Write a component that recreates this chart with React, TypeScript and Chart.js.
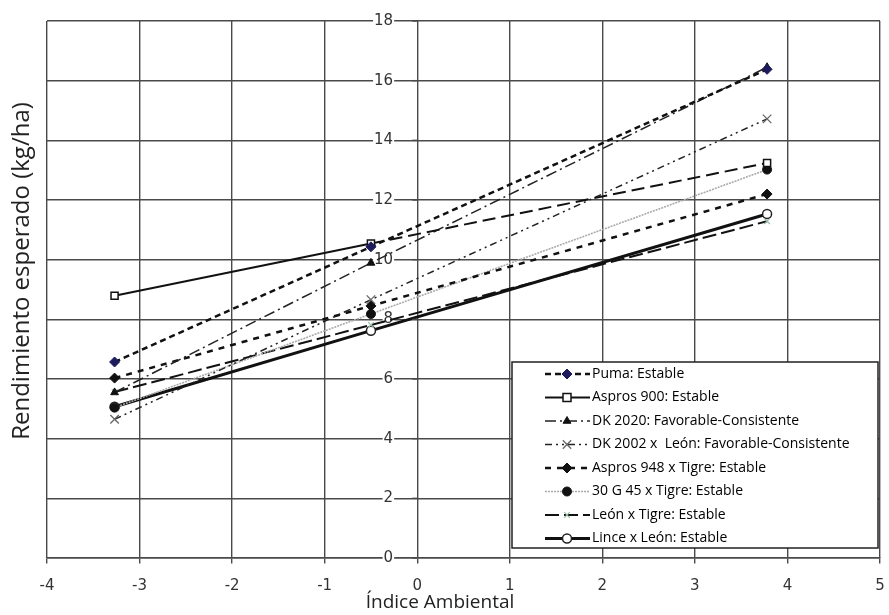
import React, { useEffect, useRef } from 'react';
import { Chart, registerables } from 'chart.js';

Chart.register(...registerables);

// ---- data ----
const envIndex = [-3.27, -0.5, 3.78];
const seriesLabels = [
  'Puma: Estable',
  'Aspros 900: Estable',
  'DK 2020: Favorable-Consistente',
  'DK 2002 x  León: Favorable-Consistente',
  'Aspros 948 x Tigre: Estable',
  '30 G 45 x Tigre: Estable',
  'León x Tigre: Estable',
  'Lince x León: Estable',
];
const puma = [6.57, 10.43, 16.38];
const aspros900 = [8.79, 10.54, 13.24];
const dk2020 = [5.55, 9.89, 16.45];
const dk2002Leon = [4.65, 8.66, 14.72];
const aspros948Tigre = [6.03, 8.45, 12.2];
const g3045Tigre = [5.04, 8.18, 13.02];
const leonTigre = [5.56, 7.81, 11.29];
const linceLeon = [5.07, 7.62, 11.53];
const seriesValues = [puma, aspros900, dk2020, dk2002Leon, aspros948Tigre, g3045Tigre, leonTigre, linceLeon];

const xMin = -4, xMax = 5, xStep = 1;
const yMin = 0, yMax = 18, yStep = 2;
const xTitle = 'Índice Ambiental';
const yTitle = 'Rendimiento esperado (kg/ha)';

// ---- styles ----
type Sty = {
  color: string; width: number; dash: number[];
  marker: string; radius: number; mFill: string; mStroke: string; mWidth: number;
  dash2?: number[];
};
const styles: Sty[] = [
  { color: '#111', width: 2.5, dash: [6, 4], marker: 'rectRot', radius: 5, mFill: '#1d1b5c', mStroke: '#1d1b5c', mWidth: 1 },
  { color: '#111', width: 2, dash: [], dash2: [13, 6], marker: 'rect', radius: 5, mFill: '#fff', mStroke: '#111', mWidth: 1.5 },
  { color: '#222', width: 1.5, dash: [11, 4, 2, 4], marker: 'triangle', radius: 4.5, mFill: '#111', mStroke: '#111', mWidth: 1 },
  { color: '#222', width: 1.5, dash: [7, 4, 2, 4, 2, 4], marker: 'crossRot', radius: 6, mFill: '#666', mStroke: '#666', mWidth: 1.3 },
  { color: '#111', width: 2.5, dash: [6, 6], marker: 'rectRot', radius: 5, mFill: '#111', mStroke: '#111', mWidth: 1 },
  { color: '#aaa', width: 1.6, dash: [2, 1], marker: 'circle', radius: 4.5, mFill: '#111', mStroke: '#111', mWidth: 1 },
  { color: '#111', width: 2, dash: [14, 5], marker: 'crossRot', radius: 4, mFill: '#9bbcaa', mStroke: '#9bbcaa', mWidth: 1.2 },
  { color: '#111', width: 3, dash: [], marker: 'circle', radius: 4.5, mFill: '#fff', mStroke: '#222', mWidth: 1.5 },
];

function drawMarker(ctx: CanvasRenderingContext2D, s: Sty, x: number, y: number) {
  const r = s.radius;
  ctx.save();
  ctx.setLineDash([]);
  ctx.lineWidth = s.mWidth;
  ctx.fillStyle = s.mFill;
  ctx.strokeStyle = s.mStroke;
  ctx.beginPath();
  if (s.marker === 'circle') {
    ctx.arc(x, y, r, 0, Math.PI * 2);
    ctx.fill(); ctx.stroke();
  } else if (s.marker === 'rect') {
    const h = r * 0.8;
    ctx.rect(x - h, y - h, 2 * h, 2 * h);
    ctx.fill(); ctx.stroke();
  } else if (s.marker === 'rectRot') {
    ctx.moveTo(x, y - r); ctx.lineTo(x + r, y); ctx.lineTo(x, y + r); ctx.lineTo(x - r, y); ctx.closePath();
    ctx.fill(); ctx.stroke();
  } else if (s.marker === 'triangle') {
    ctx.moveTo(x, y - r); ctx.lineTo(x + r * 0.87, y + r * 0.5); ctx.lineTo(x - r * 0.87, y + r * 0.5); ctx.closePath();
    ctx.fill(); ctx.stroke();
  } else if (s.marker === 'crossRot') {
    const h = r * 0.7;
    ctx.moveTo(x - h, y - h); ctx.lineTo(x + h, y + h);
    ctx.moveTo(x + h, y - h); ctx.lineTo(x - h, y + h);
    ctx.stroke();
  }
  ctx.restore();
}

const boxLegend = {
  id: 'boxLegend',
  afterDraw(chart: any) {
    const ctx: CanvasRenderingContext2D = chart.ctx;
    const ca = chart.chartArea;
    const bx = 512, by = 362, bw = ca.right - 2 - bx, bh = 548 - by;
    ctx.save();
    ctx.fillStyle = '#fff';
    ctx.fillRect(bx, by, bw, bh);
    ctx.lineWidth = 1.5;
    ctx.strokeStyle = '#222';
    ctx.setLineDash([]);
    ctx.strokeRect(bx, by, bw, bh);
    ctx.font = '14px "Open Sans"';
    ctx.textBaseline = 'middle';
    ctx.textAlign = 'left';
    chart.data.datasets.forEach((ds: any, i: number) => {
      const s = styles[i];
      const y = 374 + i * 23.5;
      ctx.save();
      ctx.strokeStyle = s.color;
      ctx.lineWidth = s.width;
      ctx.setLineDash(s.dash);
      ctx.beginPath();
      ctx.moveTo(545, y);
      ctx.lineTo(590, y);
      ctx.stroke();
      ctx.restore();
      drawMarker(ctx, s, 567, y);
      ctx.fillStyle = '#000';
      ctx.fillText(ds.label, 592, y);
    });
    ctx.restore();
  },
};

// small tick marks on the y axis at x = 0, and axis titles
const axisDecor = {
  id: 'axisDecor',
  afterDatasetsDraw(chart: any) {
    const ctx: CanvasRenderingContext2D = chart.ctx;
    const xs = chart.scales.x;
    const ys = chart.scales.y;
    const x0 = xs.getPixelForValue(0);
    ctx.save();
    ctx.strokeStyle = '#4a4a4a';
    ctx.lineWidth = 1.4;
    ys.ticks.forEach((t: any) => {
      const py = ys.getPixelForValue(t.value);
      ctx.beginPath();
      ctx.moveTo(x0, py);
      ctx.lineTo(x0 - 5, py);
      ctx.stroke();
    });
    ctx.restore();
  },
  afterDraw(chart: any) {
    const ctx: CanvasRenderingContext2D = chart.ctx;
    ctx.save();
    ctx.fillStyle = '#222';
    ctx.textAlign = 'center';
    ctx.textBaseline = 'middle';
    ctx.font = '19px "Open Sans"';
    ctx.fillText(xTitle, 440, 603);
    ctx.translate(22, 271);
    ctx.rotate(-Math.PI / 2);
    ctx.font = '24px "Open Sans"';
    ctx.fillText(yTitle, 0, 0);
    ctx.restore();
  },
};

const zeroPad = (scale: any) => {
  scale.paddingLeft = 0;
  scale.paddingRight = 0;
  scale.paddingTop = 0;
  scale.paddingBottom = 0;
};

export default function App() {
  const ref = useRef<HTMLCanvasElement>(null);
  useEffect(() => {
    if (!ref.current) return;
    const datasets = seriesValues.map((vals, i) => {
      const s = styles[i];
      return {
        label: seriesLabels[i],
        data: vals.map((v, k) => ({ x: envIndex[k], y: v })),
        borderColor: s.color,
        borderWidth: s.width,
        borderDash: s.dash,
        backgroundColor: s.mFill,
        pointStyle: s.marker,
        pointRadius: s.radius,
        pointBackgroundColor: s.mFill,
        pointBorderColor: s.mStroke,
        pointBorderWidth: s.mWidth,
        fill: false,
        tension: 0,
        segment: s.dash2
          ? { borderDash: (c: any) => (c.p0DataIndex >= 1 ? s.dash2 : undefined) }
          : undefined,
      };
    });
    const gridColor = '#4a4a4a';
    const chart = new Chart(ref.current, {
      type: 'line',
      data: { datasets },
      plugins: [axisDecor, boxLegend],
      options: {
        animation: false,
        responsive: false,
        devicePixelRatio: 1,
        layout: { padding: { left: 47, right: 9, top: 21, bottom: 57 } },
        plugins: { legend: { display: false }, tooltip: { enabled: false } },
        scales: {
          x: {
            type: 'linear',
            position: { y: 0 } as any,
            min: xMin, max: xMax,
            afterFit: zeroPad,
            ticks: {
              stepSize: xStep,
              color: '#333',
              font: { family: '"DejaVu Sans"', size: 15 },
              padding: 14,
            },
            grid: { color: gridColor, lineWidth: 1.4, tickLength: 5 },
            border: { color: gridColor, width: 1.4 },
          },
          y: {
            type: 'linear',
            position: { x: -0.26 } as any,
            min: yMin, max: yMax,
            afterFit: zeroPad,
            ticks: {
              stepSize: yStep,
              color: '#333',
              font: { family: '"DejaVu Sans"', size: 15 },
              showLabelBackdrop: true,
              backdropColor: '#fff',
              backdropPadding: 1,
            } as any,
            grid: { color: gridColor, lineWidth: 1.4, drawTicks: false },
            border: { display: false },
          },
        },
      } as any,
    });
    return () => chart.destroy();
  }, []);
  return (
    <div style={{ position: 'fixed', left: 0, top: 0, width: 889, height: 615, background: '#fff' }}>
      <canvas ref={ref} width={889} height={615} style={{ width: 889, height: 615, display: 'block' }} />
    </div>
  );
}
